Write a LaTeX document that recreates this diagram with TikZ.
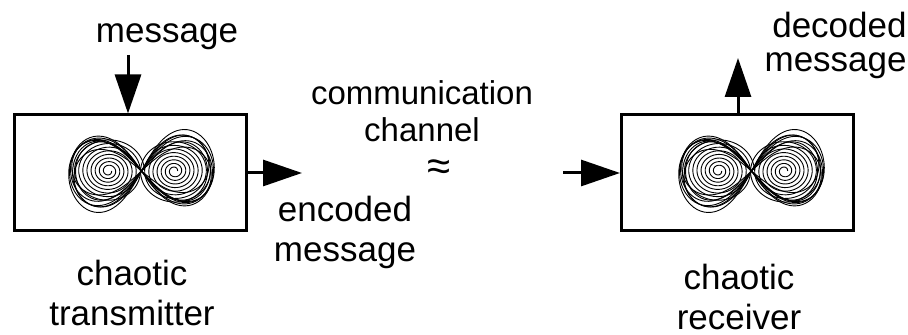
\documentclass[tikz,border=0pt]{standalone}
\usepackage{fontspec}
\setmainfont{Liberation Sans}
\usetikzlibrary{arrows.meta,positioning}

\tikzset{
  doublescroll/.pic={
    % two spiral lobes
    \foreach \cx/\s in {-33/1, 33/-1}
      \draw[attractor] plot[domain=0:2880, samples=340, smooth]
        ({\cx + (3+\x/2880*33)*cos(\x)}, {(3+\x/2880*29)*sin(\s*\x)});
    % bands between the lobes
    \foreach \a/\b/\r in {66/1.25/0, 69/1.35/4, 71/1.3/-3, 73/1.4/7, 68/1.2/10, 70/1.15/-6, 72/1.3/2}
      \draw[attractor, rotate=\r] plot[domain=0:360, samples=120, smooth]
        ({\a*cos(\x)/(1+sin(\x)^2)}, {\b*\a*sin(\x)*cos(\x)/(1+sin(\x)^2)});
  }
}

\begin{document}
\begin{tikzpicture}[
  x=0.5pt, y=-0.5pt,
  block/.style={rectangle, draw, line width=1.5pt, minimum width=116pt, minimum height=58pt, inner sep=0pt},
  txt/.style={font=\fontsize{17.5}{20}\selectfont, align=center, inner sep=0pt},
  attractor/.style={line width=0.45pt},
  >={Triangle[length=19.5pt,width=13pt]},
  flow/.style={->, line width=1.5pt}
]
\useasboundingbox (0,0) rectangle (908,335);

% Nodes
\node[block] (tx) at (130,173) {};
\node[block] (rx) at (737.5,173) {};
\pic at (141.5,171) {doublescroll};
\pic at (751.5,171) {doublescroll};

\node[txt, anchor=base] (msgin) at (167,43) {message};
\node[txt, anchor=base] (enc) at (345,262) {encoded\\message};
\node[txt, anchor=base, font=\fontsize{16.5}{18.5}\selectfont] (chan) at (422,142) {communication\\channel};
\node[txt, font=\fontsize{21}{24}\selectfont] (approx) at (439,170) {≈};
\node[txt, anchor=base] (txcap) at (132,326) {chaotic\\transmitter};
\node[txt, anchor=base] (rxcap) at (739,330) {chaotic\\receiver};
\node[txt, anchor=base east, align=right] (msgout) at (907,72) {decoded\\[-3pt]message};

\coordinate (msgtail) at (128,55);
\coordinate (txout) at (302,173);
\coordinate (rxin) at (563,173);
\coordinate (rxhead) at (738,58);

% Edges
\draw[flow] (msgtail) -- (msgtail |- tx.north);
\draw[flow] (tx.east) -- (txout);
\draw[flow] (rxin) -- (rx.west);
\draw[flow] (rxhead |- rx.north) -- (rxhead);

\end{tikzpicture}
\end{document}
